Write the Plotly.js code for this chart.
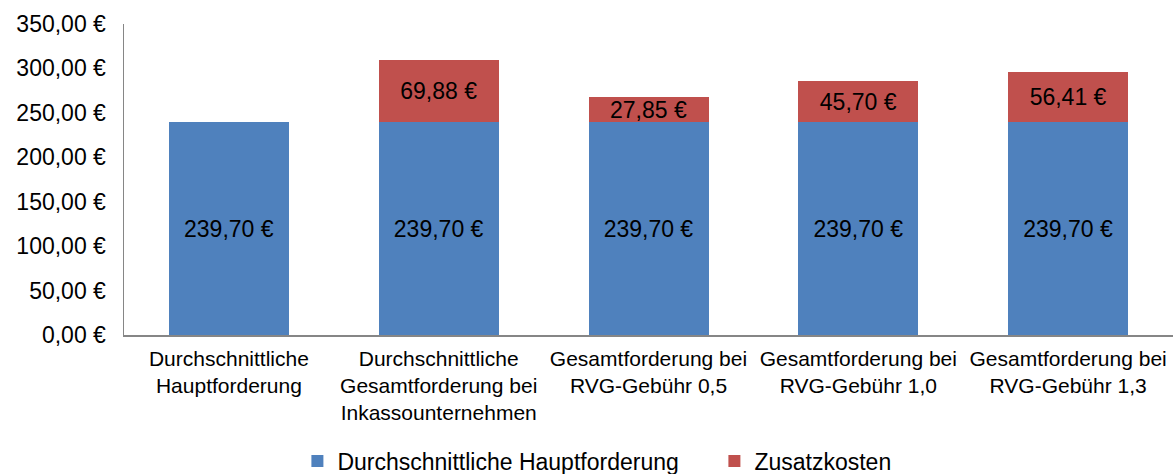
<!DOCTYPE html>
<html>
<head>
<meta charset="utf-8">
<script src="https://cdn.plot.ly/plotly-3.0.1.min.js"></script>
<style>
html,body{margin:0;padding:0;background:#fff;}
#chart{width:1175px;height:474px;}
</style>
</head>
<body>
<div id="chart"></div>
<script>
const categories = [
  "Durchschnittliche<br>Hauptforderung",
  "Durchschnittliche<br>Gesamtforderung bei<br>Inkassounternehmen",
  "Gesamtforderung bei<br>RVG-Gebühr 0,5",
  "Gesamtforderung bei<br>RVG-Gebühr 1,0",
  "Gesamtforderung bei<br>RVG-Gebühr 1,3"
];
const hauptforderung = [239.70, 239.70, 239.70, 239.70, 239.70];
const zusatzkosten = [null, 69.88, 27.85, 45.70, 56.41];
const seriesNames = ["Durchschnittliche Hauptforderung", "Zusatzkosten"];

const FONT = "Liberation Sans, Arial, sans-serif";

const traces = [
  {
    type: "bar", name: seriesNames[0], x: categories, y: hauptforderung,
    marker: {color: "#4F81BD"},
    texttemplate: "%{y:.2f} €", textposition: "inside", insidetextanchor: "middle",
    textangle: 0, textfont: {family: FONT, size: 23, color: "#000"},
    hoverinfo: "skip"
  },
  {
    type: "bar", name: seriesNames[1], x: categories, y: zusatzkosten,
    marker: {color: "#C0504D"},
    texttemplate: "%{y:.2f} €", textposition: "inside", insidetextanchor: "middle",
    textangle: 0, textfont: {family: FONT, size: 23, color: "#000"},
    hoverinfo: "skip"
  }
];

const layout = {
  width: 1175, height: 474,
  margin: {l: 124, r: 2, t: 24, b: 139},
  barmode: "stack",
  bargap: 0.428,
  separators: ",.",
  paper_bgcolor: "#fff", plot_bgcolor: "#fff",
  font: {family: FONT, color: "#000"},
  uniformtext: {mode: "show", minsize: 23},
  xaxis: {
    automargin: false,
    showline: true, linecolor: "#868686", linewidth: 1.5,
    showgrid: false, zeroline: false, ticks: "",
    tickfont: {family: FONT, size: 21, color: "#000"},
    ticklabelstandoff: 4,
    fixedrange: true
  },
  yaxis: {
    automargin: false,
    range: [0, 350], dtick: 50, tick0: 0,
    tickformat: ".2f", ticksuffix: " €",
    showline: true, linecolor: "#868686", linewidth: 1.5,
    showgrid: false, zeroline: false, ticks: "",
    tickfont: {family: FONT, size: 23, color: "#000"},
    ticklabelstandoff: 12,
    fixedrange: true
  },
  showlegend: true,
  legend: {
    orientation: "h", x: 0.1653, xanchor: "left",
    yref: "container", y: 0.0274, yanchor: "middle",
    font: {family: FONT, size: 23, color: "#000"},
    traceorder: "normal", itemclick: false, itemdoubleclick: false,
    entrywidth: 372, entrywidthmode: "pixels"
  }
};

Plotly.newPlot("chart", traces, layout, {displayModeBar: false, staticPlot: true});
</script>
</body>
</html>
